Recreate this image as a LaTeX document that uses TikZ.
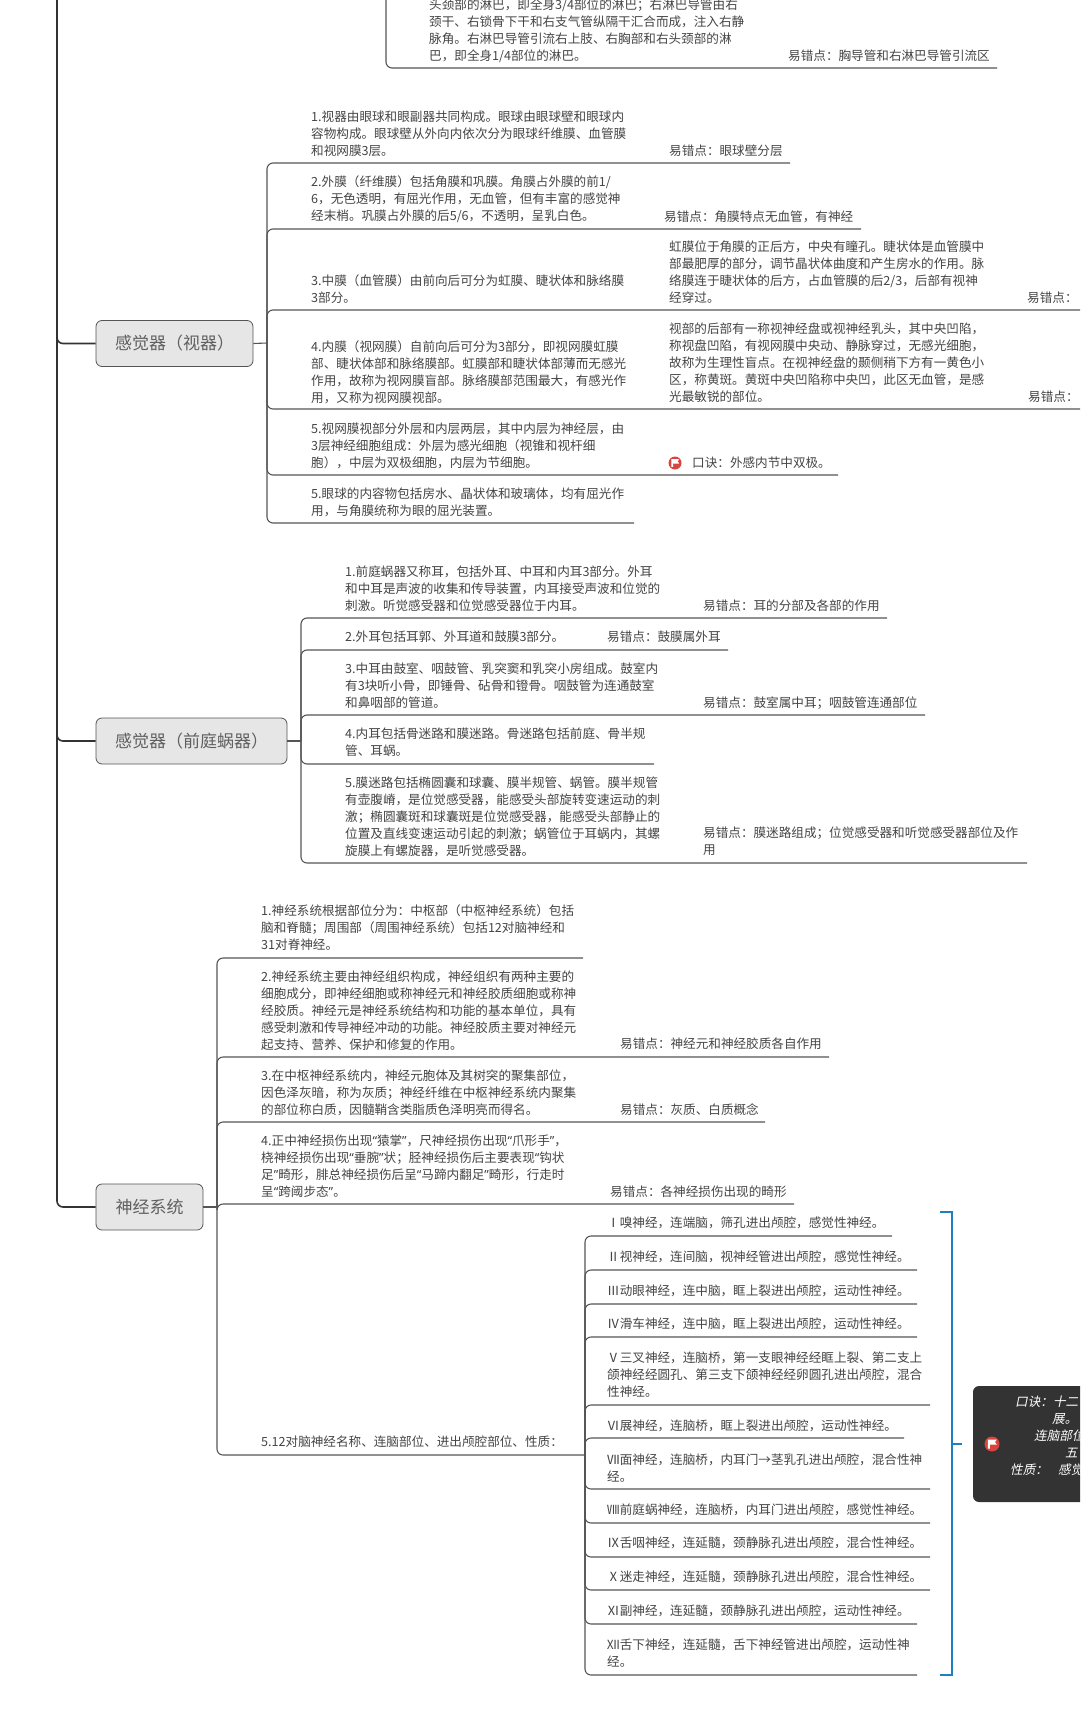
\documentclass[tikz,border=0pt]{standalone}
\usepackage{fontspec}
\setmainfont{Noto Sans CJK SC}
\newfontfamily\slantfont[FakeSlant=0.2]{Noto Sans CJK SC}
\newfontfamily\quotefont{Noto Sans}
\newcommand{\cq}[1]{{\quotefont “}#1{\quotefont ”}}
\definecolor{inkgray}{HTML}{444444}
\definecolor{limbgray}{HTML}{555555}
\definecolor{sensefill}{HTML}{E6E6E6}
\definecolor{bracketblue}{HTML}{1F80C0}
\definecolor{darkpanel}{HTML}{333333}
\definecolor{flagred}{HTML}{D9453E}
\newcommand{\flagmark}[4]{%
  \node [flagdot,minimum size=#4 pt] (#1) at (#2,#3) {};
  \fill [white] ($(#1.center)+(-0.28*#4,-0.3*#4)$) -- ++(0.6*#4,0) -- ++(-0.12*#4,0.17*#4) -- ++(0.12*#4,0.17*#4) -- ++(-0.47*#4,0) -- ++(0,0.26*#4) -- ++(-0.13*#4,0) -- cycle;
}
\usetikzlibrary{calc}
\begin{document}
\begin{tikzpicture}[
x=1pt,y=-1pt,
note/.style={anchor=north west,align=left,inner sep=0pt,text=inkgray,font=\fontsize{12.6}{17}\selectfont},
sense/.style={rectangle,rounded corners=6pt,draw=limbgray,fill=sensefill,text=inkgray!85,thick,minimum height=46pt,font=\fontsize{17}{20}\selectfont},
limb/.style={draw=limbgray,line width=1.1pt,rounded corners=6pt},
trunk/.style={draw=darkpanel,line width=1.6pt,rounded corners=6pt},
bracket/.style={draw=bracketblue,line width=1.5pt},
flagdot/.style={circle,fill=flagred,inner sep=0pt},
panelnote/.style={anchor=west,inner sep=0pt,text=white,font=\fontsize{12.6}{17}\slantfont}
]
\useasboundingbox (0,0) rectangle (1080,1728);
\clip (0,0) rectangle (1080,1728);

% Trunk and the three sense boxes
\coordinate (root) at (57,-5);
\node [sense,minimum width=157pt] (sight) at (174.5,343.5) {感觉器（视器）};
\node [sense,minimum width=191pt] (ear) at (191.5,741) {感觉器（前庭蜗器）};
\node [sense,minimum width=107pt] (nerve) at (149.5,1207) {神经系统};
\foreach \organ in {sight,ear,nerve}{
  \draw [trunk] (root) |- (\organ.west);
}

% Branch running in from the top edge
\coordinate (lymphtop) at (386,-5);
\coordinate (lymphend) at (997,68);
\draw [limb] (lymphtop) |- (lymphend);
\node [note] (lymph) at (429,-1) {头颈部的淋巴，即全身3/4部位的淋巴；右淋巴导管由右\\颈干、右锁骨下干和右支气管纵隔干汇合而成，注入右静\\脉角。右淋巴导管引流右上肢、右胸部和右头颈部的淋\\巴，即全身1/4部位的淋巴。};
\node [note] (lymphx) at (788,50) {易错点：胸导管和右淋巴导管引流区};

% Limbs of the eye
\coordinate (sightbus) at (267,343);
\draw [limb] (sight.east) -- (sightbus);
\foreach \k/\xend/\yend in {a/790/163,b/861/229,c/1085/310,d/1085/409,e/838/475,f/634/523}{
  \coordinate (sight\k) at (\xend,\yend);
  \draw [limb] (sightbus) |- (sight\k);
}
\node [note] (s1) at (311,111) {1.视器由眼球和眼副器共同构成。眼球由眼球壁和眼球内\\容物构成。眼球壁从外向内依次分为眼球纤维膜、血管膜\\和视网膜3层。};
\node [note] (s1x) at (669,145) {易错点：眼球壁分层};
\node [note] (s2) at (311,176) {2.外膜（纤维膜）包括角膜和巩膜。角膜占外膜的前1/\\6，无色透明，有屈光作用，无血管，但有丰富的感觉神\\经末梢。巩膜占外膜的后5/6，不透明，呈乳白色。};
\node [note] (s2x) at (664,211) {易错点：角膜特点无血管，有神经};
\node [note] (s3) at (311,275) {3.中膜（血管膜）由前向后可分为虹膜、睫状体和脉络膜\\3部分。};
\node [note] (s3m) at (669,241) {虹膜位于角膜的正后方，中央有瞳孔。睫状体是血管膜中\\部最肥厚的部分，调节晶状体曲度和产生房水的作用。脉\\络膜连于睫状体的后方，占血管膜的后2/3，后部有视神\\经穿过。};
\node [note] (s3x) at (1027,292) {易错点：};
\node [note] (s4) at (311,341) {4.内膜（视网膜）自前向后可分为3部分，即视网膜虹膜\\部、睫状体部和脉络膜部。虹膜部和睫状体部薄而无感光\\作用，故称为视网膜盲部。脉络膜部范围最大，有感光作\\用，又称为视网膜视部。};
\node [note] (s4m) at (669,323) {视部的后部有一称视神经盘或视神经乳头，其中央凹陷，\\称视盘凹陷，有视网膜中央动、静脉穿过，无感光细胞，\\故称为生理性盲点。在视神经盘的颞侧稍下方有一黄色小\\区，称黄斑。黄斑中央凹陷称中央凹，此区无血管，是感\\光最敏锐的部位。};
\node [note] (s4x) at (1028,391) {易错点：};
\node [note] (s5) at (311,423) {5.视网膜视部分外层和内层两层，其中内层为神经层，由\\3层神经细胞组成：外层为感光细胞（视锥和视杆细\\胞），中层为双极细胞，内层为节细胞。};
\flagmark{s5flag}{675}{463}{13}
\node [note] (s5x) at (692,457) {口诀：外感内节中双极。};
\node [note] (s6) at (311,488) {5.眼球的内容物包括房水、晶状体和玻璃体，均有屈光作\\用，与角膜统称为眼的屈光装置。};

% Limbs of the ear
\coordinate (earbus) at (301,741);
\draw [limb] (ear.east) -- (earbus);
\foreach \k/\xend/\yend in {a/887/618,b/728/650,c/925/715,d/654/764,e/1027/863}{
  \coordinate (ear\k) at (\xend,\yend);
  \draw [limb] (earbus) |- (ear\k);
}
\node [note] (e1) at (345,566) {1.前庭蜗器又称耳，包括外耳、中耳和内耳3部分。外耳\\和中耳是声波的收集和传导装置，内耳接受声波和位觉的\\刺激。听觉感受器和位觉感受器位于内耳。};
\node [note] (e1x) at (703,600) {易错点：耳的分部及各部的作用};
\node [note] (e2) at (345,631) {2.外耳包括耳郭、外耳道和鼓膜3部分。};
\node [note] (e2x) at (607,631) {易错点：鼓膜属外耳};
\node [note] (e3) at (345,663) {3.中耳由鼓室、咽鼓管、乳突窦和乳突小房组成。鼓室内\\有3块听小骨，即锤骨、砧骨和镫骨。咽鼓管为连通鼓室\\和鼻咽部的管道。};
\node [note] (e3x) at (703,697) {易错点：鼓室属中耳；咽鼓管连通部位};
\node [note] (e4) at (345,728) {4.内耳包括骨迷路和膜迷路。骨迷路包括前庭、骨半规\\管、耳蜗。};
\node [note] (e5) at (345,777) {5.膜迷路包括椭圆囊和球囊、膜半规管、蜗管。膜半规管\\有壶腹嵴，是位觉感受器，能感受头部旋转变速运动的刺\\激；椭圆囊斑和球囊斑是位觉感受器，能感受头部静止的\\位置及直线变速运动引起的刺激；蜗管位于耳蜗内，其螺\\旋膜上有螺旋器，是听觉感受器。};
\node [note] (e5x) at (703,827) {易错点：膜迷路组成；位觉感受器和听觉感受器部位及作\\用};

% Limbs of the nervous system
\coordinate (nervebus) at (217,1207);
\draw [limb] (nerve.east) -- (nervebus);
\coordinate (cranialbus) at (585,1455);
\foreach \k/\xend/\yend in {a/583/958,b/829/1057,c/765/1122,d/794/1204}{
  \coordinate (nerve\k) at (\xend,\yend);
  \draw [limb] (nervebus) |- (nerve\k);
}
\draw [limb] (nervebus) |- (cranialbus);
\node [note] (n1) at (261,905) {1.神经系统根据部位分为：中枢部（中枢神经系统）包括\\脑和脊髓；周围部（周围神经系统）包括12对脑神经和\\31对脊神经。};
\node [note] (n2) at (261,971) {2.神经系统主要由神经组织构成，神经组织有两种主要的\\细胞成分，即神经细胞或称神经元和神经胶质细胞或称神\\经胶质。神经元是神经系统结构和功能的基本单位，具有\\感受刺激和传导神经冲动的功能。神经胶质主要对神经元\\起支持、营养、保护和修复的作用。};
\node [note] (n2x) at (620,1038) {易错点：神经元和神经胶质各自作用};
\node [note] (n3) at (261,1070) {3.在中枢神经系统内，神经元胞体及其树突的聚集部位，\\因色泽灰暗，称为灰质；神经纤维在中枢神经系统内聚集\\的部位称白质，因髓鞘含类脂质色泽明亮而得名。};
\node [note] (n3x) at (620,1103) {易错点：灰质、白质概念};
\node [note] (n4) at (261,1135) {4.正中神经损伤出现\cq{猿掌}，尺神经损伤出现\cq{爪形手}，\\桡神经损伤出现\cq{垂腕}状；胫神经损伤后主要表现\cq{钩状\\足}畸形，腓总神经损伤后呈\cq{马蹄内翻足}畸形，行走时\\呈\cq{跨阈步态}。};
\node [note] (n4x) at (610,1186) {易错点：各神经损伤出现的畸形};
\node [note] (n5) at (261,1436) {5.12对脑神经名称、连脑部位、进出颅腔部位、性质：};

% The twelve cranial nerves
\foreach \k/\xend/\yend in {a/892/1236,b/917/1270,c/917/1304,d/917/1337,e/930/1405,f/904/1438,g/930/1489,h/930/1523,i/930/1557,j/930/1590,k/917/1624,l/917/1675}{
  \coordinate (cranial\k) at (\xend,\yend);
  \draw [limb] (cranialbus) |- (cranial\k);
}
\node [note] (c1) at (607,1217) {Ⅰ嗅神经，连端脑，筛孔进出颅腔，感觉性神经。};
\node [note] (c2) at (607,1251) {Ⅱ视神经，连间脑，视神经管进出颅腔，感觉性神经。};
\node [note] (c3) at (607,1285) {Ⅲ动眼神经，连中脑，眶上裂进出颅腔，运动性神经。};
\node [note] (c4) at (607,1318) {Ⅳ滑车神经，连中脑，眶上裂进出颅腔，运动性神经。};
\node [note] (c5) at (607,1352) {Ⅴ三叉神经，连脑桥，第一支眼神经经眶上裂、第二支上\\颌神经经圆孔、第三支下颌神经经卵圆孔进出颅腔，混合\\性神经。};
\node [note] (c6) at (607,1420) {Ⅵ展神经，连脑桥，眶上裂进出颅腔，运动性神经。};
\node [note] (c7) at (607,1454) {Ⅶ面神经，连脑桥，内耳门→茎乳孔进出颅腔，混合性神\\经。};
\node [note] (c8) at (607,1504) {Ⅷ前庭蜗神经，连脑桥，内耳门进出颅腔，感觉性神经。};
\node [note] (c9) at (607,1537) {Ⅸ舌咽神经，连延髓，颈静脉孔进出颅腔，混合性神经。};
\node [note] (c10) at (607,1571) {Ⅹ迷走神经，连延髓，颈静脉孔进出颅腔，混合性神经。};
\node [note] (c11) at (607,1605) {Ⅺ副神经，连延髓，颈静脉孔进出颅腔，运动性神经。};
\node [note] (c12) at (607,1639) {Ⅻ舌下神经，连延髓，舌下神经管进出颅腔，运动性神\\经。};

% Bracket and dark panel
\coordinate (brtop) at (940,1212);
\coordinate (brbot) at (940,1675);
\coordinate (brmid) at (952,1444);
\coordinate (brtip) at (962,1444);
\draw [bracket] (brtop) -- (952,1212) -- (952,1675) -- (brbot);
\draw [bracket] (brmid) -- (brtip);
\fill [darkpanel,rounded corners=6pt] (973,1386) rectangle (1100,1502);
\flagmark{panelflag}{992}{1444}{15}
\node [panelnote] (p1) at (1015,1402) {口诀：十二};
\node [panelnote] (p2) at (1052,1419) {展。};
\node [panelnote] (p3) at (1034,1436) {连脑部位};
\node [panelnote] (p4) at (1065,1453) {五};
\node [panelnote] (p5) at (1010,1470) {性质：};
\node [panelnote] (p6) at (1058,1470) {感觉};
\end{tikzpicture}
\end{document}
